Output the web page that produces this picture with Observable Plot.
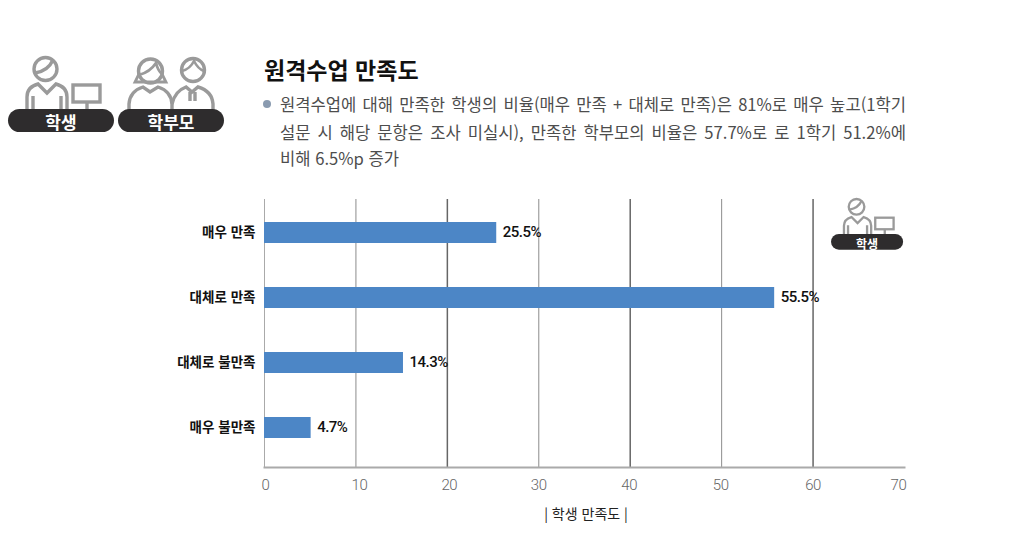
<!DOCTYPE html>
<html lang="ko"><head><meta charset="utf-8">
<script src="https://cdn.jsdelivr.net/npm/d3@7"></script>
<script src="https://cdn.jsdelivr.net/npm/@observablehq/plot@0.6"></script>
<style>
html,body{margin:0;padding:0;background:#fff}
#page{position:relative;width:1024px;height:547px;overflow:hidden;font-family:"Noto Sans CJK KR","Noto Sans",sans-serif}
#chart{position:absolute;left:0;top:180px;z-index:0}
#chart g[aria-label="text"]{letter-spacing:-.5px}
#chart g[aria-label="x-axis tick label"]{letter-spacing:-.4px}
.t{position:absolute;white-space:nowrap}
#title{left:264px;top:52px;font-size:23px;font-weight:700;color:#111;line-height:34px}
.l{left:280px;width:626px;font-size:16.6px;line-height:24px;color:#4d4d4d}
.j{text-align:justify;text-align-last:justify}
#bullet{position:absolute;left:263px;top:100px;width:8px;height:8px;border-radius:50%;background:#8a9bb0}
#xt{left:264px;width:644px;text-align:center;top:502px;font-size:14px;line-height:22px;color:#222}
#icons{position:absolute;left:0;top:0;z-index:1}
</style></head><body>
<div id="page">
<svg id="icons" width="1024" height="547"></svg>
<div id="chart"></div>
<div class="t" id="title"></div>
<div id="bullet"></div>
<div class="t l j" id="l0" style="top:92px"></div>
<div class="t l j" id="l1" style="top:120px"></div>
<div class="t l" id="l2" style="top:146px"></div>
<div class="t" id="xt"></div>
</div>
<script>
const categories = ["매우 만족","대체로 만족","대체로 불만족","매우 불만족"];
const barLengths = [25.4,55.8,15.2,5.1];
const valueLabels = ["25.5%","55.5%","14.3%","4.7%"];
const gridLight = [10,30,50];
const gridDark = [20,40,60];
const ticks = [0,10,20,30,40,50,60,70];
const tickLabelShift = [1,3.5,2,0,-1,-1,0,-6];
const titleText = "원격수업 만족도";
const bodyLines = ["원격수업에 대해 만족한 학생의 비율(매우 만족 + 대체로 만족)은 81%로 매우 높고(1학기","설문 시 해당 문항은 조사 미실시), 만족한 학부모의 비율은 57.7%로 로 1학기 51.2%에","비해 6.5%p 증가"];
const xTitle = "| 학생 만족도 |";
const rows = categories.map((c,i)=>({c,v:barLengths[i],label:valueLabels[i]}));

document.getElementById("title").textContent = titleText;
bodyLines.forEach((s,i)=>document.getElementById("l"+i).textContent=s);
document.getElementById("xt").textContent = xTitle;

const numFont = 'Roboto, sans-serif';
const plot = Plot.plot({
  width:1024,height:367,marginLeft:264,marginRight:120,marginTop:19,marginBottom:80,
  style:{background:"transparent",fontFamily:'"Noto Sans CJK KR",sans-serif'},
  x:{domain:[0,70],label:null},
  y:{domain:categories,range:[18,281.6],paddingInner:.674,paddingOuter:.337,label:null},
  marks:[
    Plot.ruleX(gridLight,{stroke:"#8c8c8c",strokeWidth:1}),
    Plot.ruleX(gridDark,{stroke:"#666",strokeWidth:1.5}),
    Plot.ruleX([0],{stroke:"#aaa",strokeWidth:1}),
    Plot.barX(rows,{x:"v",y:"c",fill:"#4c86c6"}),
    Plot.frame({anchor:"bottom",stroke:"#aaa",strokeWidth:2}),
    Plot.axisY({tickSize:0,tickPadding:9,fontSize:13.5,fontWeight:700,color:"#111",label:null}),
    ...ticks.map((t,i)=>Plot.axisX({ticks:[t],dx:tickLabelShift[i],tickSize:0,tickPadding:12,fontSize:15,fontWeight:300,color:"#666",label:null,
      fontFamily:numFont,tickFormat:d=>String(d)})),
    Plot.text(rows,{x:"v",y:"c",text:"label",dx:6,dy:-1,textAnchor:"start",fontSize:15,fontWeight:500,fill:"#111",fontFamily:numFont})
  ]
});
document.getElementById("chart").append(plot);

/* decorative pictograms */
const G="#9a9a9a",D="#2e2c2d";
function student(s){return `<g transform="${s}" fill="none" stroke="${G}" stroke-width="3.4">
<circle cx="45.5" cy="69" r="11.5"/><path d="M35 73Q48 71 53 60"/>
<path d="M27 111V97Q27 87 38 84L47 93L56 84Q67 87 67 97V111M33 96V111M61 96V111"/>
<rect x="73" y="85" width="27" height="17"/><path d="M87 102V111"/>
<rect x="8" y="109" width="106" height="23" rx="11.5" fill="${D}" stroke="none"/></g>`}
function parent(s){return `<g transform="${s}" fill="none" stroke="${G}" stroke-width="3.4">
<circle cx="150.5" cy="71" r="12"/><path d="M139 75Q150 72 156 63Q158 71 162 74M139 74L135 82H166L162 74" stroke-width="2.8"/>
<path d="M129 111V104Q130 91 143 87L150 92L158 87Q171 91 172 104V111"/>
<circle cx="193" cy="70" r="11.5"/><path d="M182 71Q190 69 194 61Q198 69 204 71" stroke-width="2.6"/>
<path d="M172 104Q175 91 186 87L192 92L198 87Q212 91 213 104V111M190 92V101M195 92V101"/>
<rect x="118" y="109" width="106" height="23" rx="11.5" fill="${D}" stroke="none"/></g>`}
const icons=document.getElementById("icons");
icons.innerHTML = student("")+parent("")+student("translate(825.6 159.9) scale(.68)");
[[61,121,"학생",17],[171,121,"학부모",17],[867,243,"학생",12]].forEach(([x,y,s,f])=>{
  const t=document.createElementNS("http://www.w3.org/2000/svg","text");
  t.setAttribute("x",x);t.setAttribute("y",y);t.setAttribute("text-anchor","middle");
  t.setAttribute("dominant-baseline","central");t.setAttribute("fill","#fff");
  t.setAttribute("font-size",f);t.setAttribute("font-weight","700");t.textContent=s;icons.append(t);
});
</script>
</body></html>
